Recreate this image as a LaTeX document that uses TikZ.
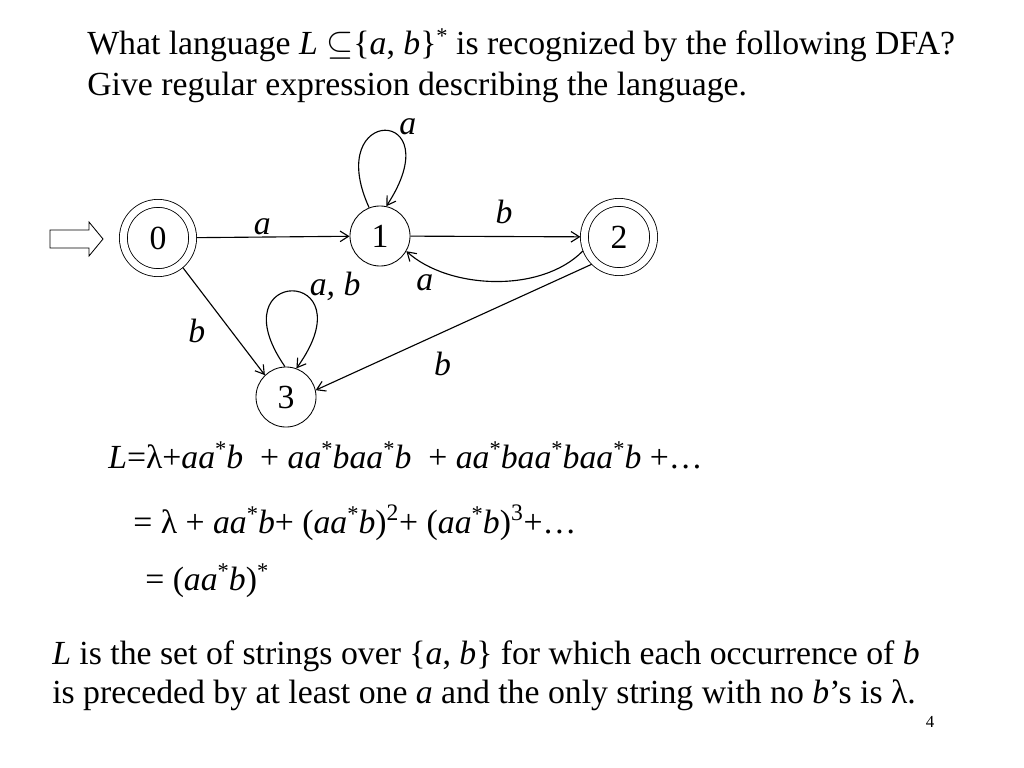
\documentclass[tikz,border=0pt]{standalone}
\usepackage{fontspec}
\setmainfont{Liberation Serif}
\usetikzlibrary{arrows.meta}
\newcommand{\sstar}{\raisebox{8pt}{\fontsize{16}{16}\selectfont *}}
\newcommand{\iv}[1]{\textit{#1}}

\begin{document}
\begin{tikzpicture}[
		x=0.025cm, y=-0.025cm,
		%Option for nice arrows
		>={Straight Barb[length=6pt,width=7.5pt]}, %
		every node/.style={font=\fontsize{24}{29}\selectfont},
		state/.style={draw, circle, line width=0.6pt, minimum size=1.5cm, inner sep=0pt},
		accepting/.style={double, double distance=5pt, minimum size=1.73cm, outer sep=2.8pt},
		edge/.style={line width=0.8pt, ->},
		lbl/.style={inner sep=0pt, font=\fontsize{24}{29}\selectfont\itshape},
		txt/.style={anchor=base west, inner sep=0pt},
	]
		% Frame
		\useasboundingbox (0,0) rectangle (1024,768);

		% Question
		\node[txt] (ask1) at (87,55) {What language \iv{L} $\subseteq$\{\iv{a}, \iv{b}\}\sstar{} is recognized by the following DFA?};
		\node[txt] (ask2) at (87,96) {Give regular expression describing the language.};

		% States
		\node[state, accepting] (q0) at (158,238) {0};
		\node[state] (q1) at (380,236) {1};
		\node[state, accepting] (q2) at (619,237) {2};
		\node[state] (q3) at (286,397) {3};

		% Start marker
		\draw[line width=0.6pt] (50,230) -- (89,230) -- (89,222) -- (103,239)
			-- (89,256) -- (89,248) -- (50,248) -- cycle;

		% Transitions
		\draw[edge] (q0) -- node[lbl, pos=.43, shift={(0,-10)}] {a} (q1);
		\draw[edge] (q1) -- node[lbl, pos=.55, shift={(0,-25)}] {b} (q2);
		\draw[edge] (q2.201) .. controls +(-42,43) and +(42,38) .. (q1.-30)
			node[lbl, pos=.75, shift={(-21,9)}] {a};
		\draw[edge] (q0.-50) -- node[lbl, pos=.5, shift={(-27,10)}] {b} (q3.134);
		\draw[edge] (q2.225) -- node[lbl, pos=.54, shift={(0,32)}] {b} (q3.13);
		\draw[edge] (q1.111) .. controls +(-47,-103) and +(66,-101) .. (q1.78)
			node[lbl, pos=.5, shift={(23,-4)}] {a};
		\draw[edge] (q3.92) .. controls +(-70,-101) and +(74,-103) .. (q3.70)
			node[lbl, pos=.5, shift={(43,-5)}] {a, b};

		% Derivation
		\node[txt] (eq1) at (108,468) {\iv{L}=λ+\iv{aa}\sstar\iv{b} \ + \iv{aa}\sstar\iv{baa}\sstar\iv{b} \ + \iv{aa}\sstar\iv{baa}\sstar\iv{baa}\sstar\iv{b} +…};
		\node[txt] (eq2) at (133,533) {= λ + \iv{aa}\sstar\iv{b}+ (\iv{aa}\sstar\iv{b})\textsuperscript{2}+ (\iv{aa}\sstar\iv{b})\textsuperscript{3}+…};
		\node[txt] (eq3) at (145,590) {= (\iv{aa}\sstar\iv{b})\sstar};

		% Answer
		\node[txt] (ans1) at (52,664) {\iv{L} is the set of strings over \{\iv{a}, \iv{b}\} for which each occurrence of \iv{b}};
		\node[txt] (ans2) at (52,703) {is preceded by at least one \iv{a} and the only string with no \iv{b}’s is λ.};
		\node[font=\fontsize{12}{14}\selectfont] (pnum) at (930,722) {4};
\end{tikzpicture}
\end{document}
